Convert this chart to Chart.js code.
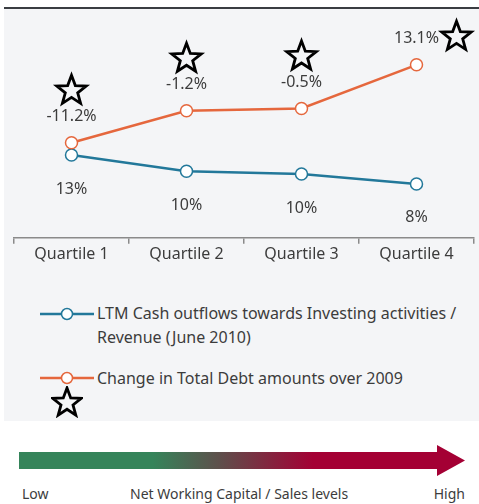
<!DOCTYPE html>
<html>
<head>
<meta charset="utf-8">
<script src="https://cdn.jsdelivr.net/npm/chart.js@4.4.1/dist/chart.umd.min.js"></script>
<style>
  body { margin: 0; width: 479px; height: 504px; background: #fff; position: relative; overflow: hidden;
         font-family: "Noto Sans", "Open Sans", sans-serif; color: #3c3c3c; }
  #topline { position: absolute; left: 4px; top: 7px; width: 475px; height: 2px; background: #3a3d42; }
  #panel { position: absolute; left: 4px; top: 9px; width: 475px; height: 412px; background: #f4f5f7; }
  #wrap { position: absolute; left: 4px; top: 9px; width: 475px; height: 256px; }
  .leg { position: absolute; left: 97px; font-size: 16px; line-height: 24px; }
  .icon { position: absolute; left: 40px; width: 54px; height: 14px; }
  .bot { position: absolute; top: 484px; font-size: 14px; }
</style>
</head>
<body>
<div id="topline"></div>
<div id="panel"></div>
<div id="wrap"><canvas id="chart"></canvas></div>

<svg class="icon" style="top:307px" viewBox="0 0 54 14"><line x1="0" y1="7" x2="54" y2="7" stroke="#22789a" stroke-width="2.5"/><circle cx="27" cy="7" r="5.5" fill="#fff" stroke="#22789a" stroke-width="1.5"/></svg>
<div class="leg" style="top:301px">LTM Cash outflows towards Investing activities /<br>Revenue (June 2010)</div>
<svg class="icon" style="top:371px" viewBox="0 0 54 14"><line x1="0" y1="7" x2="54" y2="7" stroke="#e5673d" stroke-width="2.5"/><circle cx="27" cy="7" r="5.5" fill="#fff" stroke="#e5673d" stroke-width="1.5"/></svg>
<div class="leg" style="top:366px">Change in Total Debt amounts over 2009</div>
<svg id="legstar" style="position:absolute;left:51px;top:386px" width="32" height="32"></svg>

<svg style="position:absolute;left:0;top:440px" width="479" height="40">
  <defs>
    <linearGradient id="g" x1="19" y1="0" x2="465" y2="0" gradientUnits="userSpaceOnUse">
      <stop offset="0.3" stop-color="#35845a"/>
      <stop offset="0.45" stop-color="#5e4f4b"/>
      <stop offset="0.66" stop-color="#a40034"/>
    </linearGradient>
  </defs>
  <polygon points="19,12 437,12 437,5 465,20.5 437,36 437,29 19,29" fill="url(#g)"/>
</svg>
<div class="bot" style="left:22px">Low</div>
<div class="bot" style="left:130px">Net Working Capital / Sales levels</div>
<div class="bot" style="right:14px">High</div>

<script>
const quartiles = ['Quartile 1', 'Quartile 2', 'Quartile 3', 'Quartile 4'];
const cashOutflows = [13, 10.2, 9.7, 8];
const debtChange = [-11.2, -1.2, -0.5, 13.1];

const blue = '#22789a';
const orange = '#e5673d';
const textColor = '#3c3c3c';

function starPath(ctx, cx, cy, r) {
    ctx.beginPath();
    for (let i = 0; i < 10; i++) {
        let rad = i % 2 === 0 ? r : r * 0.42;
        let a = -Math.PI / 2 + i * Math.PI / 5;
        let x = cx + rad * Math.cos(a);
        let y = cy + rad * Math.sin(a);
        if (i === 0) ctx.moveTo(x, y); else ctx.lineTo(x, y);
    }
    ctx.closePath();
}

// legend star as svg polygon
(function () {
    let pts = [];
    for (let i = 0; i < 10; i++) {
        let rad = i % 2 === 0 ? 15 : 15 * 0.42;
        let a = -Math.PI / 2 + i * Math.PI / 5;
        pts.push((16 + rad * Math.cos(a)).toFixed(2) + ',' + (17 + rad * Math.sin(a)).toFixed(2));
    }
    document.getElementById('legstar').innerHTML =
        '<polygon points="' + pts.join(' ') + '" fill="none" stroke="#000" stroke-width="2.8"/>';
})();

// data labels + stars
const labelPlugin = {
    id: 'labels',
    afterDatasetsDraw(chart) {
        const ctx = chart.ctx;
        ctx.save();
        ctx.font = '16px "Noto Sans"';
        ctx.fillStyle = textColor;
        ctx.textAlign = 'center';
        ctx.textBaseline = 'middle';
        chart.data.datasets.forEach((ds, di) => {
            const meta = chart.getDatasetMeta(di);
            meta.data.forEach((pt, i) => {
                const v = ds.data[i];
                if (ds.key === 'cash') {
                    ctx.fillText(Math.round(v) + '%', pt.x, pt.y + 34);
                } else {
                    ctx.fillText(v.toFixed(1) + '%', pt.x, pt.y - 26);
                    ctx.strokeStyle = '#000';
                    ctx.lineWidth = 2.8;
                    if (i === ds.data.length - 1) {
                        starPath(ctx, pt.x + 40, pt.y - 28, 15.5);
                    } else {
                        starPath(ctx, pt.x, pt.y - 52, 15.5);
                    }
                    ctx.stroke();
                }
            });
        });
        ctx.restore();
    }
};

new Chart(document.getElementById('chart'), {
    type: 'line',
    data: {
        labels: quartiles,
        datasets: [{
            key: 'cash',
            data: cashOutflows,
            yAxisID: 'yCash',
            borderColor: blue,
            borderWidth: 2.5,
            pointRadius: 6,
            pointBorderWidth: 1.5,
            pointBackgroundColor: '#fff',
            pointBorderColor: blue,
            clip: false,
            order: 2
        }, {
            key: 'debt',
            data: debtChange,
            yAxisID: 'yDebt',
            borderColor: orange,
            borderWidth: 2.5,
            pointRadius: 6,
            pointBorderWidth: 1.5,
            pointBackgroundColor: '#fff',
            pointBorderColor: orange,
            clip: false,
            order: 1
        }]
    },
    options: {
        responsive: true,
        maintainAspectRatio: false,
        animation: false,
        layout: { autoPadding: false, padding: { left: 10, right: 5, top: 0, bottom: 0 } },
        plugins: { legend: { display: false }, tooltip: { enabled: false } },
        scales: {
            x: {
                offset: true,
                grid: { display: true, drawOnChartArea: false, drawTicks: true, tickLength: 6, color: '#8a8a8a', lineWidth: 1.5, offset: true },
                border: { display: true, color: '#8a8a8a', width: 1.5 },
                ticks: { color: textColor, font: { family: 'Noto Sans', size: 16 }, padding: 1 }
            },
            yCash: { display: false, min: -1.3, max: 38.2 },
            yDebt: { display: false, min: -40.8, max: 30.5 }
        }
    },
    plugins: [labelPlugin]
});
</script>
</body>
</html>
